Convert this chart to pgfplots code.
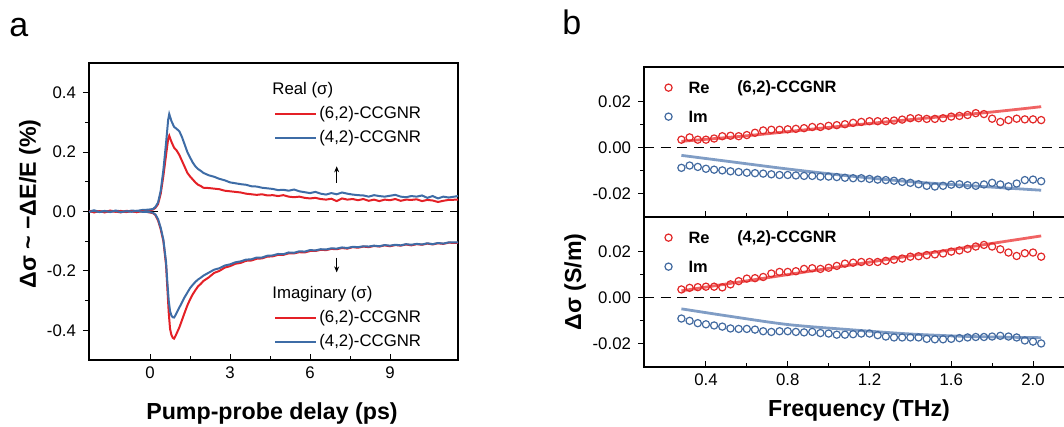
\documentclass[border=0pt]{standalone}
\usepackage{pgfplots}
\pgfplotsset{compat=1.18}
\usepackage{fontspec}
\setmainfont{Liberation Sans}
\usetikzlibrary{arrows.meta}
\definecolor{cred}{RGB}{228,32,38}
\definecolor{cblue}{RGB}{62,108,166}
\definecolor{mred}{RGB}{226,40,40}
\definecolor{mblue}{RGB}{66,106,160}
\definecolor{fred}{RGB}{236,60,60}
\definecolor{fblue}{RGB}{96,132,182}
\newcommand{\tickfont}{\fontsize{8.4}{10}\selectfont}
\newcommand{\labfont}{\fontsize{11.6}{13}\selectfont\bfseries}
\pgfplotsset{
  common/.style={
    scale only axis, anchor=south west,
    tick label style={font=\tickfont},
    /pgf/number format/assume math mode=true,
    scaled y ticks=false, scaled x ticks=false,
    xtick align=inside, ytick align=outside,
    xtick pos=left, ytick pos=left,
    major tick length=3pt, minor tick length=1.8pt,
    every tick/.style={black, line width=0.5pt},
    axis line style={line width=0.6pt},
  },
  fmt1/.style={/pgf/number format/fixed, /pgf/number format/fixed zerofill, /pgf/number format/precision=1},
  fmt2/.style={/pgf/number format/fixed, /pgf/number format/fixed zerofill, /pgf/number format/precision=2},
  legA/.style={
    legend style={at={(axis description cs:0.485,#1)}, anchor=north west,
      draw=none, fill=none, font=\tickfont, row sep=1.5pt,
      nodes={inner sep=1pt, text height=6.5pt, text depth=2pt}},
    legend cell align=left,
    legend image code/.code={\draw[##1] (0pt,0pt) -- (20.5pt,0pt);},
  },
  legB/.style={
    legend style={at={(axis description cs:0.005,0.955)}, anchor=north west,
      draw=none, fill=none, font=\fontsize{8.2}{10}\selectfont\bfseries, row sep=5pt,
      nodes={inner sep=1pt, text height=6.5pt, text depth=1pt}},
    legend cell align=left,
  },
  circimg/.style={legend image code/.code={%
    \path[draw=none, fill=none] (0pt,-1pt) rectangle (17pt,1pt);
    \draw[#1, line width=0.6pt, fill=none] (8pt,0pt) circle[radius=1.8pt];}},
}
\begin{document}
\begin{tikzpicture}
% ---------------- panel a : real part ----------------
\begin{axis}[common, legA=0.879,
  at={(44.5pt,33.5pt)}, width=184.5pt, height=148.5pt,
  xmin=-2.29, xmax=11.55, ymin=-0.5, ymax=0.5,
  xtick={0,3,6,9}, minor x tick num=1,
  ytick={-0.4,-0.2,0,0.2,0.4}, minor y tick num=1,
  yticklabel style={/pgfplots/fmt1},
]
\addplot[black, line width=0.6pt, dash pattern=on 6pt off 3.5pt, forget plot] coordinates {(-2.29,0) (11.55,0)};
\addplot[cred, line width=1pt] coordinates {
(-2.29,0.002) (-2.1,-0.003) (-1.9,0.001) (-1.7,-0.002) (-1.5,0.003) (-1.3,0.000) (-1.1,-0.003) (-0.9,0.002) (-0.7,0.001) (-0.5,-0.002) (-0.3,0.003) (-0.1,0.004) (0.1,0.006) (0.2,0.012) (0.3,0.025) (0.4,0.06) (0.5,0.12) (0.6,0.19) (0.68,0.245) (0.72,0.255) (0.8,0.235) (0.9,0.215) (1.0,0.205) (1.1,0.19) (1.2,0.17) (1.3,0.15) (1.4,0.13) (1.5,0.118) (1.6,0.108) (1.7,0.098) (1.8,0.09) (1.9,0.086) (2.0,0.08) (2.2,0.079) (2.4,0.077) (2.6,0.075) (2.8,0.07) (3.0,0.068) (3.2,0.066) (3.4,0.064) (3.6,0.06) (3.8,0.058) (4.0,0.056) (4.2,0.058) (4.4,0.054) (4.6,0.055) (4.8,0.052) (5.0,0.055) (5.2,0.05) (5.4,0.048) (5.6,0.05) (5.8,0.046) (6.0,0.044) (6.2,0.046) (6.4,0.042) (6.6,0.04) (6.8,0.043) (7.0,0.035) (7.2,0.044) (7.4,0.04) (7.6,0.042) (7.8,0.038) (8.0,0.042) (8.2,0.036) (8.4,0.04) (8.6,0.035) (8.8,0.04) (9.0,0.038) (9.2,0.042) (9.4,0.036) (9.6,0.04) (9.8,0.039) (10.0,0.041) (10.2,0.035) (10.4,0.039) (10.6,0.037) (10.8,0.032) (11.0,0.036) (11.2,0.039) (11.55,0.04)};
\addlegendentry{(6,2)-CCGNR}
\addplot[cblue, line width=1pt] coordinates {
(-2.29,0.0) (-2.1,0.004) (-1.9,-0.001) (-1.7,0.002) (-1.5,-0.002) (-1.3,0.003) (-1.1,0.001) (-0.9,-0.001) (-0.7,0.003) (-0.5,0.002) (-0.3,0.005) (-0.1,0.006) (0.1,0.008) (0.2,0.015) (0.3,0.03) (0.4,0.07) (0.5,0.14) (0.6,0.23) (0.68,0.31) (0.72,0.328) (0.8,0.305) (0.9,0.285) (1.0,0.278) (1.1,0.27) (1.2,0.25) (1.3,0.225) (1.4,0.2) (1.5,0.182) (1.6,0.165) (1.7,0.152) (1.8,0.143) (1.9,0.137) (2.0,0.13) (2.2,0.122) (2.4,0.117) (2.6,0.11) (2.8,0.105) (3.0,0.098) (3.2,0.095) (3.4,0.092) (3.6,0.09) (3.8,0.085) (4.0,0.084) (4.2,0.08) (4.4,0.078) (4.6,0.076) (4.8,0.072) (5.0,0.073) (5.2,0.07) (5.4,0.074) (5.6,0.068) (5.8,0.065) (6.0,0.062) (6.2,0.066) (6.4,0.06) (6.6,0.057) (6.8,0.062) (7.0,0.058) (7.2,0.064) (7.4,0.06) (7.6,0.057) (7.8,0.055) (8.0,0.054) (8.2,0.05) (8.4,0.055) (8.6,0.052) (8.8,0.05) (9.0,0.053) (9.2,0.056) (9.4,0.05) (9.6,0.048) (9.8,0.052) (10.0,0.05) (10.2,0.054) (10.4,0.046) (10.6,0.052) (10.8,0.044) (11.0,0.05) (11.2,0.047) (11.55,0.052)};
\addlegendentry{(4,2)-CCGNR}
\node[anchor=west, font=\tickfont, inner sep=0pt] at (axis cs:4.575,0.41) {Real (σ)};
\node[anchor=west, font=\tickfont, inner sep=0pt] at (axis cs:4.575,-0.279) {Imaginary (σ)};
\draw[black, line width=0.4pt, -{Stealth[length=3pt,width=2.5pt]}] (axis cs:7,0.097) -- (axis cs:7,0.152);
\draw[black, line width=0.4pt, -{Stealth[length=3pt,width=2.5pt]}] (axis cs:7,-0.155) -- (axis cs:7,-0.205);
\end{axis}
% ---------------- panel a : imaginary part ----------------
\begin{axis}[common, hide axis, legA=0.191,
  at={(44.5pt,33.5pt)}, width=184.5pt, height=148.5pt,
  xmin=-2.29, xmax=11.55, ymin=-0.5, ymax=0.5,
]
\addplot[cred, line width=1pt] coordinates {
(-2.29,0.002) (-2.1,-0.002) (-1.9,0.001) (-1.7,-0.003) (-1.5,0.002) (-1.3,-0.001) (-1.1,0.002) (-0.9,-0.002) (-0.7,0.001) (-0.5,-0.002) (-0.3,0.001) (-0.1,-0.002) (0.1,-0.005) (0.2,-0.012) (0.3,-0.03) (0.4,-0.06) (0.5,-0.1) (0.6,-0.18) (0.65,-0.26) (0.7,-0.34) (0.75,-0.395) (0.8,-0.415) (0.85,-0.425) (0.9,-0.428) (0.95,-0.42) (1.0,-0.41) (1.1,-0.39) (1.2,-0.365) (1.3,-0.34) (1.4,-0.316) (1.5,-0.296) (1.6,-0.279) (1.7,-0.265) (1.8,-0.252) (1.9,-0.244) (2.0,-0.234) (2.2,-0.222) (2.4,-0.207) (2.6,-0.2) (2.8,-0.189) (3.0,-0.184) (3.2,-0.176) (3.4,-0.173) (3.6,-0.166) (3.8,-0.165) (4.0,-0.159) (4.2,-0.158) (4.4,-0.152) (4.6,-0.151) (4.8,-0.146) (5.0,-0.146) (5.2,-0.141) (5.4,-0.141) (5.6,-0.137) (5.8,-0.138) (6.0,-0.133) (6.2,-0.133) (6.4,-0.129) (6.6,-0.13) (6.8,-0.126) (7.0,-0.127) (7.2,-0.123) (7.4,-0.125) (7.6,-0.12) (7.8,-0.122) (8.0,-0.118) (8.2,-0.12) (8.4,-0.116) (8.6,-0.118) (8.8,-0.114) (9.0,-0.117) (9.2,-0.113) (9.4,-0.115) (9.6,-0.111) (9.8,-0.114) (10.0,-0.11) (10.2,-0.112) (10.4,-0.108) (10.6,-0.111) (10.8,-0.107) (11.0,-0.109) (11.2,-0.105) (11.55,-0.106)};
\addlegendentry{(6,2)-CCGNR}
\addplot[cblue, line width=1pt] coordinates {
(-2.29,-0.001) (-2.1,0.002) (-1.9,-0.002) (-1.7,0.001) (-1.5,-0.001) (-1.3,0.002) (-1.1,-0.002) (-0.9,0.001) (-0.7,-0.001) (-0.5,0.002) (-0.3,-0.001) (-0.1,-0.001) (0.1,-0.004) (0.2,-0.01) (0.3,-0.026) (0.4,-0.055) (0.5,-0.095) (0.6,-0.17) (0.65,-0.24) (0.7,-0.3) (0.75,-0.335) (0.8,-0.35) (0.85,-0.356) (0.9,-0.357) (0.95,-0.35) (1.0,-0.341) (1.1,-0.323) (1.2,-0.306) (1.3,-0.288) (1.4,-0.273) (1.5,-0.258) (1.6,-0.247) (1.7,-0.237) (1.8,-0.229) (1.9,-0.223) (2.0,-0.216) (2.2,-0.206) (2.4,-0.196) (2.6,-0.191) (2.8,-0.182) (3.0,-0.178) (3.2,-0.171) (3.4,-0.168) (3.6,-0.162) (3.8,-0.161) (4.0,-0.155) (4.2,-0.155) (4.4,-0.149) (4.6,-0.148) (4.8,-0.143) (5.0,-0.144) (5.2,-0.138) (5.4,-0.139) (5.6,-0.134) (5.8,-0.135) (6.0,-0.13) (6.2,-0.131) (6.4,-0.127) (6.6,-0.128) (6.8,-0.124) (7.0,-0.125) (7.2,-0.121) (7.4,-0.123) (7.6,-0.119) (7.8,-0.12) (8.0,-0.117) (8.2,-0.118) (8.4,-0.115) (8.6,-0.117) (8.8,-0.113) (9.0,-0.115) (9.2,-0.112) (9.4,-0.114) (9.6,-0.11) (9.8,-0.112) (10.0,-0.109) (10.2,-0.111) (10.4,-0.107) (10.6,-0.11) (10.8,-0.106) (11.0,-0.108) (11.2,-0.104) (11.55,-0.104)};
\addlegendentry{(4,2)-CCGNR}
\end{axis}
% ---------------- panel b : top (6,2) ----------------
\begin{axis}[common, legB,
  at={(322pt,105pt)}, width=213pt, height=75pt,
  xmin=0.097, xmax=2.181, ymin=-0.03, ymax=0.035,
  xtick={0.4,0.8,1.2,1.6,2.0}, minor x tick num=1, xticklabels={},
  ytick={-0.02,0,0.02}, minor y tick num=1,
  yticklabel style={/pgfplots/fmt2},
]
\addplot[black, line width=0.6pt, dash pattern=on 5pt off 3.3pt, forget plot] coordinates {(0.097,0) (2.181,0)};
\addplot[only marks, mark=o, mark size=1.8pt, mred, mark options={line width=0.6pt}, circimg=mred] coordinates {
(0.28,0.0035) (0.32,0.0045) (0.36,0.0035) (0.40,0.0035) (0.44,0.004) (0.48,0.005) (0.52,0.0052) (0.56,0.005) (0.60,0.0055) (0.64,0.0065) (0.68,0.0075) (0.72,0.0078) (0.76,0.0078) (0.80,0.008) (0.84,0.0082) (0.88,0.0085) (0.92,0.009) (0.96,0.009) (1.00,0.0095) (1.04,0.0098) (1.08,0.0102) (1.12,0.0108) (1.16,0.0112) (1.20,0.0115) (1.24,0.0115) (1.28,0.0115) (1.32,0.0118) (1.36,0.0122) (1.40,0.0128) (1.44,0.0128) (1.48,0.0125) (1.52,0.0125) (1.56,0.0128) (1.60,0.0135) (1.64,0.0138) (1.68,0.0142) (1.72,0.015) (1.76,0.0146) (1.80,0.0126) (1.84,0.0112) (1.88,0.012) (1.92,0.0126) (1.96,0.0123) (2.00,0.0123) (2.04,0.012)};
\addlegendentry{Re}
\addplot[only marks, mark=o, mark size=1.8pt, mblue, mark options={line width=0.6pt}, circimg=mblue] coordinates {
(0.28,-0.0087) (0.32,-0.0077) (0.36,-0.0083) (0.40,-0.0091) (0.44,-0.0095) (0.48,-0.0098) (0.52,-0.0102) (0.56,-0.0105) (0.60,-0.0108) (0.64,-0.011) (0.68,-0.0112) (0.72,-0.0115) (0.76,-0.0118) (0.80,-0.0118) (0.84,-0.012) (0.88,-0.0122) (0.92,-0.0122) (0.96,-0.0125) (1.00,-0.0125) (1.04,-0.0127) (1.08,-0.013) (1.12,-0.0132) (1.16,-0.0132) (1.20,-0.0135) (1.24,-0.0138) (1.28,-0.014) (1.32,-0.0143) (1.36,-0.0148) (1.40,-0.0152) (1.44,-0.0158) (1.48,-0.0165) (1.52,-0.0168) (1.56,-0.0165) (1.60,-0.016) (1.64,-0.0158) (1.68,-0.0162) (1.72,-0.0165) (1.76,-0.0159) (1.80,-0.0152) (1.84,-0.0159) (1.88,-0.0167) (1.92,-0.0155) (1.96,-0.014) (2.00,-0.0138) (2.04,-0.0145)};
\addlegendentry{Im}
\addplot[fred, line width=1.4pt, opacity=0.8, smooth, forget plot] coordinates {(0.28,0.0028) (0.6,0.0052) (1.0,0.0088) (1.4,0.0122) (1.8,0.0155) (2.04,0.0178)};
\addplot[fblue, line width=1.4pt, opacity=0.8, smooth, forget plot] coordinates {(0.28,-0.0033) (0.5,-0.0058) (0.8,-0.0092) (1.1,-0.0122) (1.4,-0.0147) (1.7,-0.0165) (2.04,-0.0184)};
\node[anchor=west, font=\fontsize{8.2}{10}\selectfont\bfseries, inner sep=0pt] at (axis description cs:0.218,0.86) {(6,2)-CCGNR};
\end{axis}
% ---------------- panel b : bottom (4,2) ----------------
\begin{axis}[common, legB,
  at={(322pt,30pt)}, width=213pt, height=75pt,
  xmin=0.097, xmax=2.181, ymin=-0.03, ymax=0.035,
  xtick={0.4,0.8,1.2,1.6,2.0}, minor x tick num=1,
  xticklabel style={/pgfplots/fmt1},
  ytick={-0.02,0,0.02}, minor y tick num=1,
  yticklabel style={/pgfplots/fmt2},
]
\addplot[black, line width=0.6pt, dash pattern=on 5pt off 3.3pt, forget plot] coordinates {(0.097,0) (2.181,0)};
\addplot[only marks, mark=o, mark size=1.8pt, mred, mark options={line width=0.6pt}, circimg=mred] coordinates {
(0.28,0.0036) (0.32,0.0043) (0.36,0.0046) (0.40,0.0048) (0.44,0.0048) (0.48,0.0045) (0.52,0.0058) (0.56,0.0072) (0.60,0.0083) (0.64,0.0085) (0.68,0.009) (0.72,0.0105) (0.76,0.0112) (0.80,0.0112) (0.84,0.0115) (0.88,0.0125) (0.92,0.0128) (0.96,0.0125) (1.00,0.013) (1.04,0.0138) (1.08,0.0148) (1.12,0.0152) (1.16,0.0155) (1.20,0.0155) (1.24,0.0155) (1.28,0.016) (1.32,0.0165) (1.36,0.017) (1.40,0.0178) (1.44,0.018) (1.48,0.0185) (1.52,0.0188) (1.56,0.0192) (1.60,0.02) (1.64,0.0205) (1.68,0.0212) (1.72,0.0222) (1.76,0.0229) (1.80,0.0222) (1.84,0.021) (1.88,0.0196) (1.92,0.0181) (1.96,0.0193) (2.00,0.0196) (2.04,0.0178)};
\addlegendentry{Re}
\addplot[only marks, mark=o, mark size=1.8pt, mblue, mark options={line width=0.6pt}, circimg=mblue] coordinates {
(0.28,-0.009) (0.32,-0.010) (0.36,-0.011) (0.40,-0.0115) (0.44,-0.012) (0.48,-0.0125) (0.52,-0.0133) (0.56,-0.0135) (0.60,-0.0135) (0.64,-0.0138) (0.68,-0.0145) (0.72,-0.0148) (0.76,-0.0145) (0.80,-0.0145) (0.84,-0.0148) (0.88,-0.015) (0.92,-0.0148) (0.96,-0.0153) (1.00,-0.0155) (1.04,-0.016) (1.08,-0.016) (1.12,-0.0158) (1.16,-0.0155) (1.20,-0.0155) (1.24,-0.0162) (1.28,-0.0168) (1.32,-0.0172) (1.36,-0.0172) (1.40,-0.0172) (1.44,-0.0172) (1.48,-0.0178) (1.52,-0.018) (1.56,-0.018) (1.60,-0.0178) (1.64,-0.0175) (1.68,-0.0172) (1.72,-0.017) (1.76,-0.017) (1.80,-0.0168) (1.84,-0.0165) (1.88,-0.0168) (1.92,-0.0172) (1.96,-0.0185) (2.00,-0.019) (2.04,-0.0198)};
\addlegendentry{Im}
\addplot[fred, line width=1.4pt, opacity=0.8, forget plot] coordinates {(0.28,0.003) (2.04,0.0268)};
\addplot[fblue, line width=1.4pt, opacity=0.8, smooth, forget plot] coordinates {(0.28,-0.0048) (0.5,-0.0078) (0.8,-0.0116) (1.1,-0.0138) (1.4,-0.0157) (1.7,-0.0168) (2.04,-0.0173)};
\node[anchor=west, font=\fontsize{8.2}{10}\selectfont\bfseries, inner sep=0pt] at (axis description cs:0.218,0.86) {(4,2)-CCGNR};
\end{axis}
% ---------------- labels ----------------
\node[anchor=base west, font=\fontsize{17}{20}\selectfont, inner sep=0pt] at (4.5pt,195pt) {a};
\node[anchor=base west, font=\fontsize{17}{20}\selectfont, inner sep=0pt] at (281pt,196pt) {b};
\node[rotate=90, font=\labfont, inner sep=0pt] at (15pt,111.5pt) {Δσ \textasciitilde{} −ΔE/E (\%)};
\node[rotate=90, font=\labfont, inner sep=0pt] at (287.5pt,72.5pt) {Δσ (S/m)};
\node[anchor=base, font=\labfont, inner sep=0pt] at (136pt,3.5pt) {Pump-probe delay (ps)};
\node[anchor=base, font=\labfont, inner sep=0pt] at (429.5pt,5pt) {Frequency (THz)};
\pgfresetboundingbox
\path[use as bounding box] (0pt,0pt) rectangle (532pt,213.5pt);
\end{tikzpicture}
\end{document}
